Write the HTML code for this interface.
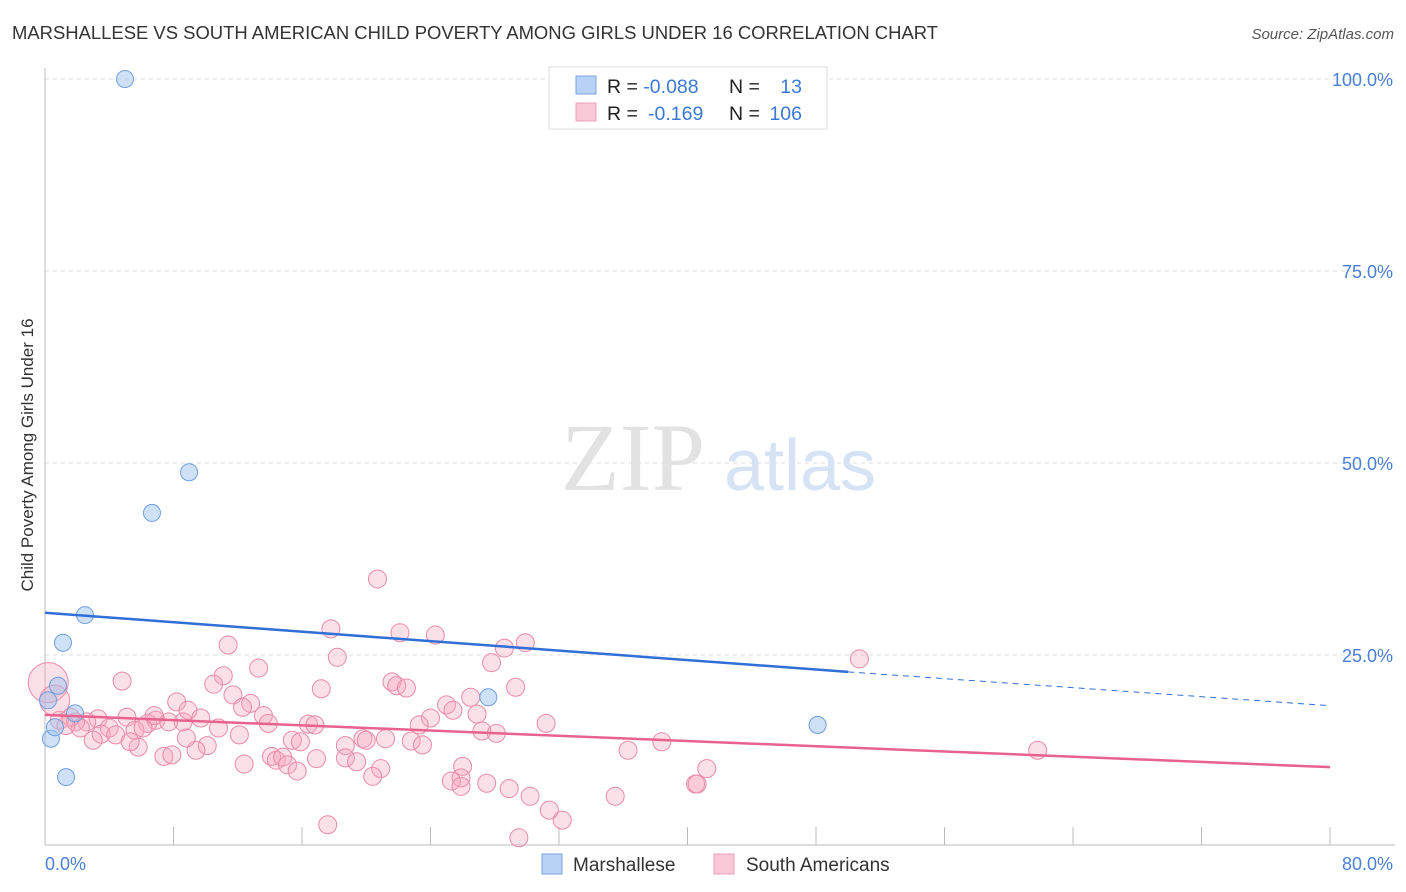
<!DOCTYPE html>
<html><head><meta charset="utf-8"><style>
body{margin:0;background:#fff;font-family:"Liberation Sans",sans-serif}
svg{display:block}
</style></head><body>
<svg width="1406" height="892" xmlns="http://www.w3.org/2000/svg">
<text x="12" y="39" font-size="18.3" fill="#333" textLength="926" lengthAdjust="spacingAndGlyphs">MARSHALLESE VS SOUTH AMERICAN CHILD POVERTY AMONG GIRLS UNDER 16 CORRELATION CHART</text>
<text x="1394" y="39" font-size="15" fill="#555" font-style="italic" text-anchor="end">Source: ZipAtlas.com</text>
<g id="grid"></g>
<g><text x="633" y="490" font-family="Liberation Serif" font-size="96" fill="#e2e2e2" text-anchor="middle">ZIP</text><text x="800" y="490" font-size="72" fill="#d5e3f5" text-anchor="middle">atlas</text></g>
<line x1="45" y1="68" x2="45" y2="845" stroke="#bbb"/>
<line x1="45" y1="845" x2="1395" y2="845" stroke="#bbb"/>
<g id="ticks"></g>
<g id="ylabels"></g>
<text x="45" y="870" font-size="18" fill="#4a7fd8">0.0%</text>
<text x="1393" y="870" font-size="18" fill="#4a7fd8" text-anchor="end">80.0%</text>
<text transform="translate(33,455) rotate(-90)" font-size="17" fill="#333" text-anchor="middle">Child Poverty Among Girls Under 16</text>
<g id="pts"></g>
<g id="lines"></g>
<g>
<rect x="549" y="67" width="278" height="62" fill="#fff" stroke="#ddd"/>
<rect x="576" y="76" width="20" height="18" fill="#b8d2f5" stroke="#7aa7e0"/>
<rect x="576" y="103" width="20" height="18" fill="#fbc8d7" stroke="#eda0b8"/>
<text x="607" y="93" font-size="19.5" fill="#222">R = <tspan fill="#3a78d6">-0.088</tspan></text>
<text x="729" y="93" font-size="19.5" fill="#222">N =</text><text x="802" y="93" font-size="19.5" fill="#3a78d6" text-anchor="end">13</text>
<text x="607" y="120" font-size="19.5" fill="#222">R = </text><text x="648" y="120" font-size="19.5" fill="#3a78d6">-0.169</text>
<text x="729" y="120" font-size="19.5" fill="#222">N = </text><text x="802" y="120" font-size="19.5" fill="#3a78d6" text-anchor="end">106</text>
</g>
<g>
<rect x="542" y="854" width="20" height="20" fill="#b8d2f5" stroke="#7aa7e0"/>
<text x="573" y="871" font-size="19" fill="#333">Marshallese</text>
<rect x="714" y="854" width="20" height="20" fill="#fbc8d7" stroke="#eda0b8"/>
<text x="746" y="871" font-size="19" fill="#333">South Americans</text>
</g>
</svg>
<script>
const yTicks=[25,50,75,100];
const yTickLabels=["25.0%","50.0%","75.0%","100.0%"];
const xTicks=[0,8,16,24,32,40,48,56,64,72,80];
const blueX=[4.98,8.97,6.66,2.49,1.12,0.81,1.87,0.19,0.37,1.31,27.6,48.1,0.62];
const blueY=[100,48.8,43.5,30.2,26.6,21.0,17.4,19.1,14.1,9.1,19.5,15.9,15.6];
const pinkX=[20.7,17.8,22.1,24.3,29.9,28.6,11.4,18.2,27.8,50.7,13.3,11.1,4.8,10.5,21.6,21.9,22.5,17.2,29.3,11.7,26.5,8.2,12.8,25.0,25.4,8.9,12.3,26.9,13.6,24.0,3.3,5.1,6.9,9.7,13.9,16.4,16.8,31.2,23.3,8.6,6.4,7.7,2.6,0.9,1.9,2.2,4.0,5.6,6.1,10.8,3.5,3.0,12.1,27.2,28.1,15.4,15.9,19.8,21.2,22.8,23.5,20.0,18.7,10.1,9.4,5.8,7.4,7.9,36.3,38.4,61.8,14.1,14.4,14.8,15.1,15.7,16.9,18.7,19.4,12.4,20.9,20.4,26.0,25.9,25.3,25.9,27.5,28.9,30.2,41.2,40.5,40.6,35.5,31.4,32.2,29.5,17.6,1.6,1.3,4.4,5.3,8.8,6.8,0.2,0.6];
const pinkY=[34.9,28.4,27.9,27.6,26.6,25.9,26.3,24.7,24.0,24.5,23.3,22.3,21.6,21.2,21.5,21.0,20.7,20.6,20.8,19.8,19.5,18.9,18.7,18.5,17.8,17.8,18.2,17.3,17.1,16.8,16.7,16.9,16.5,16.8,16.1,16.0,15.9,16.1,15.9,16.3,16.1,16.3,16.3,16.5,16.3,15.5,15.5,15.2,15.5,15.5,14.7,13.9,14.6,15.1,14.8,13.9,13.7,14.1,14.1,13.8,13.3,13.9,13.2,13.2,12.6,13.0,11.8,12.0,12.6,13.7,12.6,11.8,11.3,11.7,10.7,9.9,11.5,11.6,11.1,10.8,10.2,9.2,10.5,9.0,8.6,7.9,8.3,7.6,6.6,10.2,8.2,8.2,6.6,4.8,3.5,1.2,2.9,16.9,15.8,14.6,13.7,14.2,17.1,21.4,19.1];
const pinkR=[9,9,9,9,9,9,9,9,9,9,9,9,9,9,9,9,9,9,9,9,9,9,9,9,9,9,9,9,9,9,9,9,9,9,9,9,9,9,9,9,9,9,9,9,9,9,9,9,9,9,9,9,9,9,9,9,9,9,9,9,9,9,9,9,9,9,9,9,9,9,9,9,9,9,9,9,9,9,9,9,9,9,9,9,9,9,9,9,9,9,9,9,9,9,9,9,9,9,9,9,9,9,9,20,15];
const blueLine=[[0,30.5],[50,22.8]],blueDash=[[50,22.8],[80,18.4]];
const pinkLine=[[0,17.2],[80,10.4]];
const NS="http://www.w3.org/2000/svg";
const sx=v=>45+v*(1285/80), sy=v=>847-v*7.68;
function mk(t,a,p){const e=document.createElementNS(NS,t);for(const k in a)e.setAttribute(k,a[k]);p.appendChild(e);return e;}
const grid=document.getElementById('grid'),yl=document.getElementById('ylabels'),tk=document.getElementById('ticks');
yTicks.forEach((v,i)=>{
 const l=mk('line',{x1:45,x2:1395,y1:sy(v),y2:sy(v),stroke:'#ddd','stroke-dasharray':'4,4'},grid);
 
 
 const t=mk('text',{x:1393,y:sy(v)+7,'font-size':18,fill:'#4a7fd8','text-anchor':'end'},yl);t.textContent=yTickLabels[i];
 
 
});
xTicks.forEach(v=>{const l=mk('line',{x1:sx(v),x2:sx(v),y1:827,y2:845,stroke:'#bbb'},tk);
 
 });
const pts=document.getElementById('pts');
pinkX.forEach((x,i)=>{const c=mk('circle',{cx:sx(x),cy:sy(pinkY[i]),r:pinkR[i]||9,fill:'rgba(246,165,190,0.35)',stroke:'#ea8aa8','stroke-width':1},pts);
 
 });
blueX.forEach((x,i)=>{const c=mk('circle',{cx:sx(x),cy:sy(blueY[i]),r:8.5,fill:'rgba(160,196,240,0.5)',stroke:'#6d9fe0','stroke-width':1},pts);
 
 });
const lg=document.getElementById('lines');
let a=mk('line',{x1:sx(blueLine[0][0]),y1:sy(blueLine[0][1]),x2:sx(blueLine[1][0]),y2:sy(blueLine[1][1]),stroke:'#2f6fd6','stroke-width':2.5},lg);


a=mk('line',{x1:sx(blueDash[0][0]),y1:sy(blueDash[0][1]),x2:sx(blueDash[1][0]),y2:sy(blueDash[1][1]),stroke:'#2f6fd6','stroke-width':1,'stroke-dasharray':'6,5'},lg);


a=mk('line',{x1:sx(pinkLine[0][0]),y1:sy(pinkLine[0][1]),x2:sx(pinkLine[1][0]),y2:sy(pinkLine[1][1]),stroke:'#e8628e','stroke-width':2.5},lg);


</script>
</body></html>
